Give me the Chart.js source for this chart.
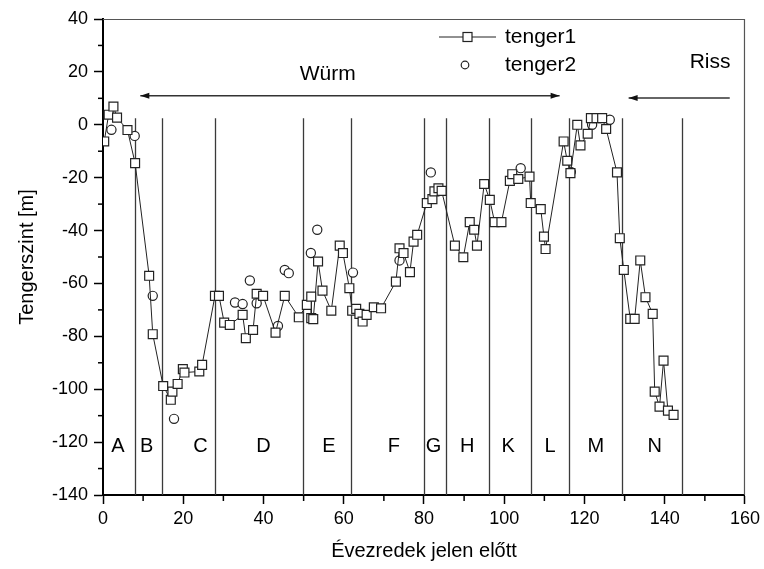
<!DOCTYPE html>
<html>
<head>
<meta charset="utf-8">
<script src="https://cdn.jsdelivr.net/npm/chart.js@4.4.1/dist/chart.umd.min.js"></script>
<style>
  html, body { margin: 0; padding: 0; background: #fff; }
  #wrap { width: 764px; height: 569px; }
</style>
</head>
<body>
<div id="wrap"><canvas id="chart"></canvas></div>
<script>
// tenger1 - line + open squares
const ageT1 = [0.3, 1.4, 2.6, 3.5, 6.1, 8.0, 11.5, 12.4, 15.0, 16.9, 17.3, 18.6, 19.9, 20.3, 24.0, 24.7,
  27.9, 28.9, 30.2, 31.6, 34.8, 35.6, 37.4, 38.3, 39.9, 43.0, 45.3, 48.8, 50.8, 51.9, 51.9, 52.4,
  53.6, 54.7, 56.9, 59.0, 59.8, 61.4, 62.1, 63.1, 63.9, 64.7, 65.7, 67.5, 69.3, 73.0, 73.9, 74.9,
  76.5, 77.4, 78.3, 80.7, 82.1, 82.6, 83.6, 84.4, 87.7, 89.8, 91.4, 92.5, 93.2, 95.0, 96.4, 97.6,
  99.3, 101.4, 102.0, 103.5, 106.3, 106.6, 109.1, 109.9, 110.3, 114.8, 115.7, 116.5, 118.2, 119.0,
  120.8, 121.6, 123.0, 124.4, 125.4, 128.1, 128.8, 129.8, 131.4, 132.5, 133.9, 135.2, 137.0, 137.5,
  138.7, 139.7, 140.8, 142.2];
const seaT1 = [-6.3, 3.8, 6.9, 2.7, -2, -14.5, -57.1, -79.2, -98.8, -104, -100.9, -98, -92.4, -93.7, -93.3, -90.8,
  -64.7, -64.7, -74.8, -75.7, -71.9, -80.7, -77.6, -63.9, -64.7, -78.6, -64.7, -72.8, -68.1, -65, -73.1, -73.5,
  -51.7, -62.7, -70.3, -45.7, -48.5, -61.8, -70.3, -69.6, -71.5, -74.4, -71.9, -69, -69.4, -59.3, -46.7, -48.5,
  -55.7, -44.2, -41.6, -29.6, -28.1, -25.2, -24, -25, -45.7, -50.1, -36.8, -39.7, -45.7, -22.4, -28.4, -36.8,
  -36.8, -21.2, -18.7, -20.5, -19.6, -29.6, -31.9, -42.3, -47, -6.3, -13.6, -18.3, 0, -7.8,
  -3.4, 2.5, 2.5, 2.5, -1.6, -18, -42.9, -54.9, -73.4, -73.4, -51.3, -65.2, -71.5, -100.9,
  -106.6, -89.2, -108.1, -109.7];

// tenger2 - open circles only
const ageT2 = [2.1, 7.9, 12.4, 17.7, 32.9, 34.8, 36.6, 38.3, 43.6, 45.3, 46.3, 51.8, 53.4, 62.3, 73.9, 81.7, 104.1, 116.6, 121.9, 126.3];
const seaT2 = [-1.9, -4.2, -64.7, -111.2, -67.2, -67.8, -58.9, -67.5, -76.1, -54.9, -56.1, -48.5, -39.7, -55.9, -51.3, -18, -16.4, -17.8, 0, 1.9];

// stage boundaries and letters
const stageEdges = [7.9, 14.6, 28, 49.9, 61.8, 79.9, 85.6, 96.3, 106.7, 116.1, 129.3, 144.4];
const stageTop = 2.5;
const stageNames = ['A', 'B', 'C', 'D', 'E', 'F', 'G', 'H', 'K', 'L', 'M', 'N'];
const stageNameX = [3.7, 10.9, 24.3, 40, 56.3, 72.5, 82.4, 90.8, 101, 111.4, 122.8, 137.5];
const stageNameY = -121.8;

// glacial periods
const wurmArrow = [9.3, 113.8, 11];   // from, to, level
const rissArrow = [156.2, 131, 10.1];
const wurmLabel = ['Würm', 56, 19.3];
const rissLabel = ['Riss', 151.3, 23.5];

const xTicks = [0, 20, 40, 60, 80, 100, 120, 140, 160];
const yTicks = [-140, -120, -100, -80, -60, -40, -20, 0, 20, 40];

const FONT = 'Arial, "Liberation Sans", sans-serif';

function toPts(xs, ys) {
  return xs.map((x, i) => ({ x: x, y: ys[i] }));
}

function arrowHead(ctx, x, y, dir) {
  ctx.beginPath();
  ctx.moveTo(x, y);
  ctx.lineTo(x - dir * 9, y - 3);
  ctx.lineTo(x - dir * 9, y + 3);
  ctx.closePath();
  ctx.fill();
}

const extras = {
  id: 'extras',
  beforeDatasetsDraw(chart) {
    const { ctx, scales: { x, y } } = chart;
    ctx.save();
    ctx.strokeStyle = '#3a3a3a';
    ctx.lineWidth = 1.3;
    stageEdges.forEach(v => {
      const px = Math.round(x.getPixelForValue(v)) + 0.5;
      ctx.beginPath();
      ctx.moveTo(px, y.getPixelForValue(-140));
      ctx.lineTo(px, y.getPixelForValue(stageTop));
      ctx.stroke();
    });
    ctx.restore();
  },
  afterDraw(chart) {
    const { ctx, chartArea: a, scales: { x, y } } = chart;
    ctx.save();

    // top / right frame
    ctx.strokeStyle = '#555';
    ctx.lineWidth = 1.2;
    ctx.beginPath();
    ctx.moveTo(a.left, a.top + 0.5);
    ctx.lineTo(a.right - 0.5, a.top + 0.5);
    ctx.lineTo(a.right - 0.5, a.bottom);
    ctx.stroke();

    // minor ticks
    ctx.strokeStyle = '#000';
    ctx.lineWidth = 1.5;
    for (let v = 10; v < 160; v += 20) {
      const px = x.getPixelForValue(v);
      ctx.beginPath();
      ctx.moveTo(px, a.bottom);
      ctx.lineTo(px, a.bottom + 6);
      ctx.stroke();
    }
    for (let v = -130; v < 40; v += 20) {
      const py = y.getPixelForValue(v);
      ctx.beginPath();
      ctx.moveTo(a.left, py);
      ctx.lineTo(a.left - 5, py);
      ctx.stroke();
    }

    // stage letters
    ctx.fillStyle = '#000';
    ctx.font = '20px ' + FONT;
    ctx.textAlign = 'center';
    ctx.textBaseline = 'middle';
    stageNames.forEach((n, i) => {
      ctx.fillText(n, x.getPixelForValue(stageNameX[i]), y.getPixelForValue(stageNameY));
    });

    // Würm / Riss
    ctx.font = '21px ' + FONT;
    ctx.fillText(wurmLabel[0], x.getPixelForValue(wurmLabel[1]), y.getPixelForValue(wurmLabel[2]));
    ctx.fillText(rissLabel[0], x.getPixelForValue(rissLabel[1]), y.getPixelForValue(rissLabel[2]));

    ctx.strokeStyle = '#333';
    ctx.fillStyle = '#111';
    ctx.lineWidth = 1.5;
    let py = y.getPixelForValue(wurmArrow[2]);
    let x1 = x.getPixelForValue(wurmArrow[0]), x2 = x.getPixelForValue(wurmArrow[1]);
    ctx.beginPath(); ctx.moveTo(x1, py); ctx.lineTo(x2, py); ctx.stroke();
    arrowHead(ctx, x1, py, -1);
    arrowHead(ctx, x2, py, 1);
    py = y.getPixelForValue(rissArrow[2]);
    x1 = x.getPixelForValue(rissArrow[0]); x2 = x.getPixelForValue(rissArrow[1]);
    ctx.beginPath(); ctx.moveTo(x1, py); ctx.lineTo(x2, py); ctx.stroke();
    arrowHead(ctx, x2, py, -1);

    // legend
    const lx = a.left + 336, ly1 = a.top + 18, ly2 = a.top + 46;
    ctx.strokeStyle = '#222';
    ctx.lineWidth = 1;
    ctx.beginPath(); ctx.moveTo(lx, ly1); ctx.lineTo(lx + 57, ly1); ctx.stroke();
    ctx.fillStyle = '#fff';
    ctx.lineWidth = 1.2;
    ctx.fillRect(lx + 24, ly1 - 4.5, 9, 9);
    ctx.strokeRect(lx + 24, ly1 - 4.5, 9, 9);
    ctx.beginPath(); ctx.arc(lx + 26, ly2, 3.8, 0, Math.PI * 2); ctx.fill(); ctx.stroke();
    ctx.fillStyle = '#000';
    ctx.textAlign = 'left';
    ctx.font = '21px ' + FONT;
    ctx.fillText('tenger1', lx + 66, ly1);
    ctx.fillText('tenger2', lx + 66, ly2);

    ctx.restore();
  }
};

new Chart(document.getElementById('chart'), {
  type: 'scatter',
  data: {
    datasets: [
      {
        label: 'tenger1',
        data: toPts(ageT1, seaT1),
        showLine: true,
        borderColor: '#222',
        borderWidth: 1,
        pointStyle: 'rect',
        pointRadius: 6.3,
        pointBackgroundColor: '#fff',
        pointBorderColor: '#222',
        pointBorderWidth: 1.2
      },
      {
        label: 'tenger2',
        data: toPts(ageT2, seaT2),
        showLine: false,
        pointStyle: 'circle',
        pointRadius: 4.6,
        pointBackgroundColor: '#fff',
        pointBorderColor: '#222',
        pointBorderWidth: 1.2
      }
    ]
  },
  options: {
    responsive: true,
    maintainAspectRatio: false,
    animation: false,
    layout: { padding: { left: 15, right: 17, top: 19, bottom: 6 } },
    plugins: { legend: { display: false }, tooltip: { enabled: false } },
    scales: {
      x: {
        type: 'linear',
        min: 0, max: 160,
        afterFit: s => { s.height = 68; },
        afterBuildTicks: s => { s.ticks = xTicks.map(v => ({ value: v })); },
        ticks: { color: '#000', font: { family: FONT, size: 18 }, padding: 4, maxRotation: 0 },
        grid: { drawOnChartArea: false, drawTicks: true, tickLength: 9, tickColor: '#000', tickWidth: 1.5 },
        border: { display: true, color: '#000', width: 2 },
        title: { display: true, text: 'Évezredek jelen előtt', color: '#000', font: { family: FONT, size: 20 }, padding: 0 }
      },
      y: {
        type: 'linear',
        min: -140, max: 40,
        afterFit: s => { s.width = 88; },
        afterBuildTicks: s => { s.ticks = yTicks.map(v => ({ value: v })); },
        ticks: { color: '#000', font: { family: FONT, size: 18 }, padding: 6 },
        grid: { drawOnChartArea: false, drawTicks: true, tickLength: 9, tickColor: '#000', tickWidth: 1.5 },
        border: { display: true, color: '#000', width: 2 },
        title: { display: true, text: 'Tengerszint [m]', color: '#000', font: { family: FONT, size: 20 }, padding: 0 }
      }
    }
  },
  plugins: [extras]
});
</script>
</body>
</html>
